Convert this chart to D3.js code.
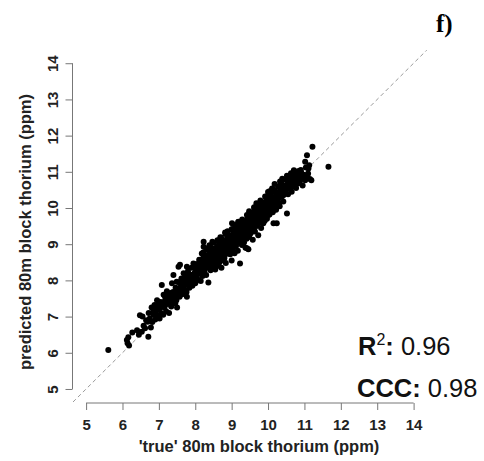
<!DOCTYPE html>
<html>
<head>
<meta charset="utf-8">
<script src="https://cdn.jsdelivr.net/npm/d3@7"></script>
<style>
  body { margin: 0; background: #fff; }
  svg { display: block; font-family: "Liberation Sans", Arial, sans-serif; }
</style>
</head>
<body>
<svg width="484" height="461"></svg>
<script>
// 'true' block thorium (ppm)
var trueTh = [
  5.61, 6.12, 6.14, 6.16, 6.18, 6.27, 6.40, 6.45, 6.48, 6.53, 6.55, 6.58, 6.62, 6.65,
  6.69, 6.71, 6.72, 6.75, 6.78, 6.80, 6.82, 6.85, 6.88, 6.90, 6.92, 6.95, 6.97,
  7.00, 7.02, 7.05, 7.06, 7.08, 7.10, 7.12, 7.13, 7.15, 7.17, 7.18, 7.20, 7.22,
  7.24, 7.26, 7.28, 7.30, 7.32, 7.34, 7.36, 7.38, 7.40, 7.42, 7.44, 7.45, 7.46, 7.48, 7.49, 7.50,
  7.52, 7.54, 7.55, 7.57, 7.58, 7.60, 7.62, 7.64, 7.66, 7.68, 7.70, 7.72, 7.74, 7.76,
  7.77, 7.77, 7.79, 7.80, 7.82, 7.84, 7.85, 7.86, 7.88, 7.90, 7.92, 7.94, 7.95, 7.95, 7.97, 7.99,
  8.00, 8.01, 8.02, 8.04, 8.05, 8.06, 8.08, 8.10, 8.11, 8.12, 8.13, 8.14, 8.15, 8.17, 8.19,
  8.20, 8.21, 8.22, 8.22, 8.23, 8.23, 8.25, 8.27, 8.28, 8.29, 8.30, 8.31, 8.32, 8.34, 8.35,
  8.36, 8.36, 8.38, 8.39, 8.40, 8.42, 8.43, 8.44, 8.46, 8.48, 8.49, 8.50, 8.50,
  8.51, 8.52, 8.54, 8.55, 8.56, 8.57, 8.58, 8.60, 8.60, 8.61, 8.62, 8.63, 8.64, 8.66, 8.67,
  8.68, 8.69, 8.70, 8.70, 8.71, 8.72, 8.73, 8.74, 8.75, 8.76, 8.78, 8.79, 8.80, 8.81, 8.82,
  8.83, 8.84, 8.85, 8.86, 8.87, 8.88, 8.89, 8.90, 8.91, 8.92, 8.93, 8.94, 8.96, 8.97, 8.98, 8.99, 9.00, 9.00,
  9.01, 9.02, 9.03, 9.04, 9.05, 9.06, 9.08, 9.09, 9.10, 9.11, 9.11, 9.12, 9.14, 9.15, 9.16,
  9.17, 9.18, 9.19, 9.20, 9.21, 9.22, 9.23, 9.23, 9.25, 9.26, 9.27, 9.28, 9.29, 9.30, 9.31,
  9.32, 9.33, 9.34, 9.35, 9.37, 9.38, 9.39, 9.40, 9.41, 9.42, 9.43, 9.44, 9.45, 9.46, 9.47, 9.48, 9.49, 9.50, 9.50,
  9.51, 9.52, 9.53, 9.54, 9.55, 9.57, 9.58, 9.59, 9.60, 9.61, 9.62, 9.63, 9.64, 9.65, 9.66,
  9.67, 9.69, 9.70, 9.71, 9.72, 9.73, 9.75, 9.76, 9.77, 9.78, 9.79, 9.80, 9.81, 9.82, 9.83,
  9.84, 9.85, 9.87, 9.88, 9.89, 9.90, 9.91, 9.93, 9.94, 9.95, 9.96, 9.97, 9.99, 10.00,
  10.01, 10.02, 10.03, 10.04, 10.05, 10.06, 10.08, 10.09, 10.10, 10.12, 10.13, 10.15, 10.15, 10.16,
  10.17, 10.19, 10.20, 10.22, 10.23, 10.24, 10.24, 10.26, 10.28, 10.29, 10.30, 10.32, 10.34, 10.35,
  10.36, 10.38, 10.40, 10.41, 10.42, 10.44, 10.46, 10.47, 10.48, 10.50,
  10.52, 10.53, 10.54, 10.55, 10.58, 10.60, 10.61, 10.62, 10.65, 10.67, 10.68, 10.70, 10.72, 10.74,
  10.75, 10.77, 10.80, 10.81, 10.82, 10.85, 10.87, 10.88, 10.90, 10.93, 10.95, 10.98,
  11.02, 11.02, 11.05, 11.07, 11.10, 11.11, 11.15, 11.19, 11.22, 11.66,
  7.85, 7.95, 8.05, 8.13, 8.21, 8.28, 8.35, 8.43, 8.49, 8.56, 8.62, 8.68, 8.74, 8.80, 8.86, 8.92,
  8.98, 9.04, 9.10, 9.16, 9.22, 9.27, 9.33, 9.39, 9.45, 9.49, 9.53, 9.59, 9.65, 9.71, 9.77, 9.83,
  9.89, 9.95, 10.03, 10.09, 10.16, 10.23, 10.29, 10.35, 10.41, 10.47, 10.54, 10.61, 10.68, 10.74, 10.81, 10.87,
  8.58, 8.71, 8.79, 8.91, 9.02, 9.09, 9.21, 9.31, 9.38, 9.52, 9.61, 9.69, 9.81, 9.92, 10.01, 10.11, 10.19, 10.31,
  8.03, 8.12, 8.18, 8.31, 8.41, 8.47, 8.61, 8.69, 8.82, 8.88, 9.03, 9.12, 9.18, 9.29, 9.42, 9.48, 9.62, 9.68,
  9.79, 9.92, 10.04, 10.11, 10.18, 10.33, 10.39, 10.52, 10.63, 10.71,
  6.84, 6.93, 6.99, 7.04, 7.11, 7.16, 7.21, 7.27, 7.33, 7.39, 7.43, 7.51, 7.56, 7.61, 7.67, 7.73, 7.81, 7.87, 7.93,
  8.07, 8.16, 8.24, 8.33, 8.37, 8.45, 8.53, 8.59, 8.65, 8.72, 8.77, 8.84, 8.89, 8.95,
  9.07, 9.13, 9.19, 9.24, 9.34, 9.36, 9.44, 9.56, 9.63, 9.68, 9.74, 9.86, 9.93, 9.98, 10.07, 10.14, 10.21, 10.27,
  10.37, 10.43, 10.56, 10.64,
  10.66, 10.73, 10.78, 10.84, 10.91, 10.96, 11.04, 11.08, 11.13
];

// predicted block thorium (ppm), same order
var predTh = [
  6.08, 6.35, 6.26, 6.43, 6.20, 6.56, 6.62, 6.50, 7.04, 6.58, 7.00, 6.75, 6.68, 6.90,
  6.86, 6.44, 7.10, 6.95, 6.70, 7.25, 6.85, 7.05, 7.32, 6.92, 7.15, 7.45, 7.02,
  7.20, 6.95, 7.40, 7.10, 7.87, 7.30, 7.05, 7.60, 7.25, 7.55, 7.45, 7.15, 7.70,
  7.35, 7.55, 7.10, 7.42, 7.65, 7.28, 7.92, 7.50, 8.15, 7.38, 7.62, 7.37, 7.80, 7.45, 7.96, 7.25,
  7.70, 8.38, 7.95, 7.55, 8.43, 7.82, 8.05, 7.62, 7.90, 8.20, 7.75, 7.98, 8.12, 7.68,
  7.55, 8.38, 7.88, 8.25, 8.02, 7.80, 7.92, 8.15, 7.95, 8.35, 7.85, 8.10, 8.47, 8.05, 8.00, 8.22,
  7.92, 8.44, 8.30, 8.12, 8.18, 8.45, 8.02, 8.38, 8.57, 8.20, 8.25, 8.55, 7.98, 8.32, 8.48,
  8.12, 8.38, 8.62, 8.77, 9.07, 8.93, 8.25, 8.40, 8.50, 8.70, 8.15, 8.88, 8.52, 8.35, 8.55,
  7.94, 8.68, 8.45, 8.97, 8.80, 8.28, 8.62, 8.58, 8.42, 8.72, 8.55, 8.36, 9.04,
  8.62, 8.48, 8.85, 8.30, 8.65, 8.70, 8.55, 8.95, 8.45, 8.40, 8.75, 8.78, 8.62, 9.02, 8.50,
  8.72, 8.85, 8.68, 8.55, 9.18, 8.35, 8.92, 8.85, 8.75, 9.10, 8.58, 8.88, 8.62, 8.70, 9.05,
  9.28, 8.48, 8.95, 8.92, 8.80, 9.18, 9.36, 8.74, 9.00, 9.05, 8.85, 9.25, 8.72, 9.08, 9.02, 8.92, 8.55, 9.41,
  9.58, 9.15, 8.88, 9.12, 9.30, 9.02, 8.75, 9.22, 8.98, 9.40, 9.53, 8.95, 9.10, 9.35, 9.25,
  8.82, 9.20, 9.62, 9.48, 9.05, 9.22, 8.47, 9.30, 9.12, 9.55, 9.35, 8.98, 9.38, 9.14, 9.22,
  9.62, 9.40, 9.05, 9.45, 9.28, 8.90, 9.42, 9.52, 9.15, 8.89, 9.70, 9.35, 9.48, 8.86, 9.58, 9.20, 9.55, 9.42, 9.88,
  9.75, 9.30, 9.62, 9.55, 9.85, 9.40, 9.12, 9.62, 9.68, 9.48, 10.02, 9.90, 9.35, 9.72, 9.62,
  9.80, 9.50, 9.95, 9.78, 9.58, 9.25, 9.75, 10.05, 9.85, 9.62, 9.88, 10.18, 9.45, 10.10, 9.88,
  9.72, 9.95, 9.58, 10.15, 9.95, 9.80, 9.65, 10.02, 9.85, 10.28, 10.20, 9.70, 9.92, 10.44,
  10.36, 10.05, 10.12, 9.82, 10.22, 10.40, 9.95, 10.25, 10.15, 10.45, 9.88, 9.58, 10.30, 10.20,
  10.08, 10.50, 10.22, 9.95, 10.30, 9.58, 10.38, 10.15, 10.60, 10.42, 10.28, 10.05, 10.48, 10.45,
  10.70, 10.32, 10.55, 10.48, 10.18, 10.62, 10.40, 10.60, 10.78, 10.50,
  9.85, 10.65, 10.58, 10.38, 10.82, 10.55, 10.68, 10.70, 10.45, 10.90, 10.75, 10.62, 10.78, 10.82,
  11.00, 10.55, 10.85, 10.88, 10.68, 10.95, 10.92, 10.75, 11.05, 10.82, 10.62, 10.92,
  11.28, 10.77, 10.85, 11.46, 10.95, 11.09, 10.80, 10.77, 11.69, 11.14,
  8.01, 8.07, 8.18, 8.26, 8.38, 8.49, 8.56, 8.61, 8.53, 8.66, 8.76, 8.71, 8.86, 8.91, 8.93, 9.06,
  9.03, 9.13, 9.19, 9.26, 9.21, 9.36, 9.41, 9.43, 9.49, 9.56, 9.63, 9.61, 9.73, 9.79, 9.86, 9.87,
  9.96, 10.03, 10.13, 10.24, 10.21, 10.31, 10.43, 10.46, 10.47, 10.61, 10.57, 10.69, 10.76, 10.83, 10.87, 10.93,
  8.44, 8.56, 8.61, 8.76, 8.86, 8.97, 9.09, 9.13, 9.24, 9.31, 9.37, 9.54, 9.59, 9.73, 9.81, 9.91, 10.03, 10.13,
  8.43, 8.56, 8.74, 8.86, 8.93, 9.07, 9.11, 9.19, 9.32, 9.34, 9.42, 9.51, 9.61, 9.68, 9.81, 9.91, 10.01, 10.13,
  10.21, 10.32, 10.46, 10.54, 10.66, 10.73, 10.81, 10.89, 10.96, 11.04,
  7.12, 7.22, 7.33, 7.26, 7.38, 7.41, 7.52, 7.48, 7.56, 7.68, 7.52, 7.61, 7.78, 7.72, 8.02, 7.88, 8.08, 8.03, 8.16,
  8.28, 8.41, 8.46, 8.63, 8.41, 8.79, 8.88, 8.61, 8.86, 9.03, 8.99, 9.11, 8.81, 9.16,
  9.31, 9.04, 9.43, 9.27, 9.57, 9.19, 9.62, 9.78, 9.52, 9.94, 9.66, 10.07, 9.79, 10.12, 10.33, 10.01, 10.42, 10.24,
  10.58, 10.36, 10.74, 10.57,
  10.86, 10.95, 10.72, 11.02, 10.98, 10.86, 11.12, 10.90, 11.18
];

var tickVals = [5, 6, 7, 8, 9, 10, 11, 12, 13, 14];
var stats = [{name: "R", sup: "2", value: "0.96"}, {name: "CCC", sup: "", value: "0.98"}];

var svg = d3.select("svg");

// R-style plot region: 5..14 padded by 4%
var x = d3.scaleLinear().domain([4.64, 14.36]).range([73, 426.7]);
var y = d3.scaleLinear().domain([4.64, 14.36]).range([402, 50.2]);

// 1:1 line
svg.append("line")
  .attr("x1", x(4.64)).attr("y1", y(4.64))
  .attr("x2", x(14.36)).attr("y2", y(14.36))
  .attr("stroke", "#9a9a9a")
  .attr("stroke-width", 1)
  .attr("stroke-dasharray", "4,3");

var pts = d3.zip(trueTh, predTh);

svg.append("g")
  .selectAll("circle")
  .data(pts)
  .enter()
  .append("circle")
  .attr("cx", function(d) { return x(d[0]); })
  .attr("cy", function(d) { return y(d[1]); })
  .attr("r", 3)
  .attr("fill", "#000");

// x axis
var gx = svg.append("g")
  .attr("transform", "translate(0,403)")
  .call(d3.axisBottom(x).tickValues(tickVals).tickSize(7).tickPadding(9));
gx.select(".domain").remove();
gx.append("line")
  .attr("x1", x(5)).attr("x2", x(14))
  .attr("stroke", "#777");
gx.selectAll(".tick line").attr("stroke", "#777");
gx.selectAll(".tick text")
  .attr("fill", "#222")
  .style("font-size", "15px")
  .style("font-weight", "bold")
  .style("font-family", "Liberation Sans, Arial, sans-serif");

// y axis
var gy = svg.append("g")
  .attr("transform", "translate(72.5,0)")
  .call(d3.axisLeft(y).tickValues(tickVals).tickSize(7));
gy.select(".domain").remove();
gy.append("line")
  .attr("y1", y(5)).attr("y2", y(14))
  .attr("stroke", "#777");
gy.selectAll(".tick line").attr("stroke", "#777");
gy.selectAll(".tick text")
  .attr("x", null).attr("dy", null)
  .attr("transform", "translate(-14.5,0) rotate(-90)")
  .attr("text-anchor", "middle")
  .attr("fill", "#222")
  .style("font-size", "15px")
  .style("font-weight", "bold")
  .style("font-family", "Liberation Sans, Arial, sans-serif");

// axis titles
svg.append("text")
  .attr("x", 259).attr("y", 452)
  .attr("text-anchor", "middle")
  .attr("fill", "#222")
  .style("font-size", "16.5px")
  .style("font-weight", "bold")
  .text("'true' 80m block thorium (ppm)");

svg.append("text")
  .attr("transform", "translate(31,232) rotate(-90)")
  .attr("text-anchor", "middle")
  .attr("fill", "#222")
  .style("font-size", "16.5px")
  .style("font-weight", "bold")
  .text("predicted 80m block thorium (ppm)");

// statistics
var st = svg.append("g").selectAll("text")
  .data(stats)
  .enter()
  .append("text")
  .attr("x", function(d, i) { return i === 0 ? 358 : 357; })
  .attr("y", function(d, i) { return i === 0 ? 355 : 397; })
  .attr("fill", "#111")
  .style("font-size", "25.5px");
st.append("tspan").style("font-weight", "bold").text(function(d) { return d.name; });
st.filter(function(d) { return d.sup; })
  .append("tspan").attr("dy", -10).style("font-size", "16px")
  .text(function(d) { return d.sup; });
st.append("tspan")
  .attr("dy", function(d) { return d.sup ? 10 : 0; })
  .style("font-weight", "bold").text(":");
st.append("tspan").text(function(d) { return " " + d.value; });

// panel letter
svg.append("text")
  .attr("x", 436).attr("y", 32)
  .style("font-family", "Liberation Serif, Times New Roman, serif")
  .style("font-size", "25px")
  .style("font-weight", "bold")
  .text("f)");
</script>
</body>
</html>
